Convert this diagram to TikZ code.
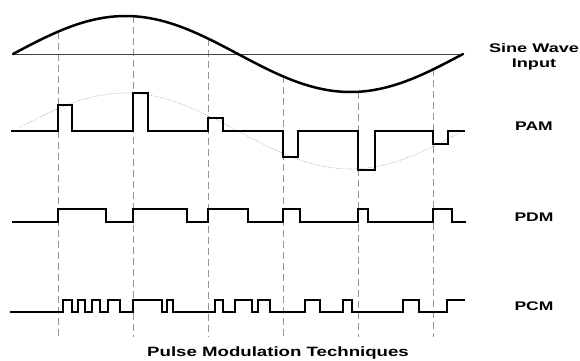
\documentclass[tikz,border=0pt]{standalone}
\usepackage{fontspec}
\setmainfont{Liberation Sans}
\begin{document}
\begin{tikzpicture}[x=1pt,y=-1pt,
    wave/.style={line width=1.6pt, line join=miter},
    sinewave/.style={line width=2.5pt, line cap=round},
    axisline/.style={line width=0.6pt, draw=black!75},
    guide/.style={line width=0.8pt, draw=black!42, dash pattern=on 7pt off 4pt},
    envelope/.style={line width=0.6pt, draw=black!35, dash pattern=on 1pt off 1.5pt},
    tag/.style={font=\fontsize{12.5}{15}\selectfont\bfseries, inner sep=0pt, align=center}]
  \useasboundingbox[fill=white] (0,0) rectangle (580,360);

  % vertical sampling instants, from the sine curve down past the PCM row
  % (one period spans 450 units, so the phase is 0.8 degrees per unit)
  \foreach \s in {58,133,208,283,358,433}
    \draw[guide] (\s,{54-38*sin(0.8*(\s-13))}) -- (\s,337);

  % sine wave input and its zero line
  \draw[axisline] (13,54) -- (463,54);
  \draw[sinewave, domain=13:463, samples=120, smooth] plot (\x,{54-38*sin(0.8*(\x-13))});

  % PAM: dotted envelope and amplitude-modulated pulses
  \draw[envelope, domain=20:463, samples=100, smooth] plot (\x,{131-38*sin(0.8*(\x-13))});
  \draw[wave] (11,131)
    \foreach \a/\b/\t in {58/72/105,133/148/93,208/223/118,283/298/157,358/375/170,433/448/144}
      { -- (\a,131) -- (\a,\t) -- (\b,\t) -- (\b,131) }
    -- (465,131);

  % PDM: width-modulated pulses
  \draw[wave] (12,222)
    \foreach \a/\b in {58/106,133/187,208/248,283/300,358/368,433/452}
      { -- (\a,222) -- (\a,209) -- (\b,209) -- (\b,222) }
    -- (466,222);

  % PCM: coded pulse trains
  \draw[wave] (10,312)
    \foreach \a/\b in {63/72,78/85,92/100,108/120,133/162,167/173,215/223,235/252,258/270,305/320,343/352,403/419}
      { -- (\a,312) -- (\a,300) -- (\b,300) -- (\b,312) }
    -- (447,312) -- (447,300) -- (465,300);

  % row labels
  \node[tag] (lsine) at (534,57) {\scalebox{1.45}[1]{Sine Wave}\\\scalebox{1.45}[1]{Input}};
  \node[tag] (lpam) at (534,126.5) {\scalebox{1.4}[1]{PAM}};
  \node[tag] (lpdm) at (534,217) {\scalebox{1.4}[1]{PDM}};
  \node[tag] (lpcm) at (534,306.5) {\scalebox{1.4}[1]{PCM}};
  \node[tag, anchor=base, font=\fontsize{13.5}{16}\selectfont\bfseries] (title) at (278,356.5)
    {\scalebox{1.38}[1]{Pulse Modulation Techniques}};
\end{tikzpicture}
\end{document}
